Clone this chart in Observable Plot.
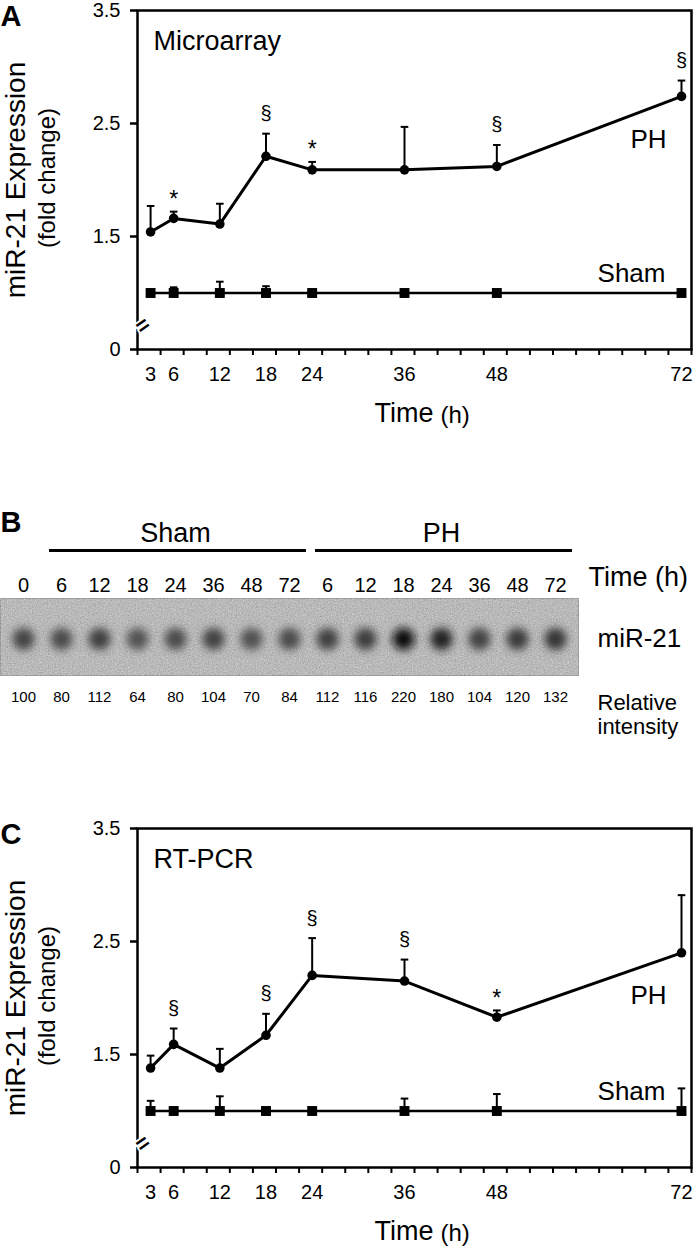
<!DOCTYPE html>
<html>
<head>
<meta charset="utf-8">
<script src="https://cdn.jsdelivr.net/npm/d3@7"></script>
<script src="https://cdn.jsdelivr.net/npm/@observablehq/plot@0.6"></script>
<style>
  body { margin: 0; background: #fff; }
  #fig { position: relative; width: 700px; height: 1257px; overflow: hidden; background: #fff; }
  #fig svg { position: absolute; left: 0; overflow: visible; }
</style>
</head>
<body>
<div id="fig"></div>
<script>
// ---------- data ----------
const times = [3, 6, 12, 18, 24, 36, 48, 72];

// Panel A: Microarray
const phMeanA  = [1.54, 1.66, 1.61, 2.21, 2.09, 2.09, 2.12, 2.74];
const phSeA    = [0.23, 0.06, 0.18, 0.20, 0.07, 0.38, 0.19, 0.14];
const shamMeanA = [1.0, 1.0, 1.0, 1.0, 1.0, 1.0, 1.0, 1.0];
const shamSeA   = [0, 0.05, 0.10, 0.06, 0, 0, 0, 0];
const sigA = ["", "*", "", "§", "*", "", "§", "§"];

// Panel C: RT-PCR
const phMeanC  = [1.38, 1.59, 1.38, 1.67, 2.20, 2.15, 1.83, 2.40];
const phSeC    = [0.11, 0.14, 0.17, 0.19, 0.33, 0.19, 0.06, 0.51];
const shamMeanC = [1.0, 1.0, 1.0, 1.0, 1.0, 1.0, 1.0, 1.0];
const shamSeC   = [0.09, 0, 0.13, 0, 0, 0.11, 0.15, 0.20];
const sigC = ["", "§", "", "§", "§", "§", "*", ""];

// axis (broken y axis: bottom tick stands for 0)
const yTicks = [0.5, 1.5, 2.5, 3.5];
const yTickLabels = ["0", "1.5", "2.5", "3.5"];
const axisBreakAt = 0.68;
const xDomain = [1.3, 73.3];
const yDomain = [0.5, 3.5];
const minorTicks = d3.range(25).map(k => xDomain[0] + 3 * k);

// Panel B: Northern blot
const laneTimes = ["0", "6", "12", "18", "24", "36", "48", "72", "6", "12", "18", "24", "36", "48", "72"];
const laneGroups = ["Control", "Sham", "Sham", "Sham", "Sham", "Sham", "Sham", "Sham", "PH", "PH", "PH", "PH", "PH", "PH", "PH"];
const relIntensity = [100, 80, 112, 64, 80, 104, 70, 84, 112, 116, 220, 180, 104, 120, 132];
const groupNames = ["Sham", "PH"];

// ---------- helpers ----------
const FONT = "'Liberation Sans', Arial, Helvetica, sans-serif";
const yLabelOf = new Map(yTicks.map((v, i) => [v, yTickLabels[i]]));
const capSymbol = { draw(context) { const w = 3.8; context.moveTo(-w, 0); context.lineTo(w, 0); } };

function expressionPanel({letter, title, phMean, phSe, shamMean, shamSe, sig}) {
  const ph = times.map((t, i) => ({t, m: phMean[i], se: phSe[i], sig: sig[i]}));
  const sham = times.map((t, i) => ({t, m: shamMean[i], se: shamSe[i]}));
  const bars = [...ph, ...sham].filter(d => d.se > 0);
  return Plot.plot({
    width: 700, height: 440,
    marginTop: 8, marginRight: 9, marginBottom: 93, marginLeft: 137,
    style: {fontFamily: FONT, fontSize: "20px", background: "transparent", color: "black"},
    x: {domain: xDomain, label: null},
    y: {domain: yDomain, label: null},
    marks: [
      Plot.frame({stroke: "black", strokeWidth: 2.5}),
      Plot.axisY(yTicks, {tickSize: 7, tickPadding: 10, strokeWidth: 2.5, tickFormat: d => yLabelOf.get(d), label: null, fontSize: 20}),
      Plot.axisX(minorTicks, {tickSize: 6, strokeWidth: 2, tickFormat: () => "", label: null}),
      Plot.axisX(times, {tickSize: 0, tickPadding: 17, tickFormat: d => String(d), label: null, fontSize: 20}),
      Plot.ruleX(bars, {x: "t", y1: "m", y2: d => d.m + d.se, strokeWidth: 2, stroke: "black"}),
      Plot.dot(bars, {x: "t", y: d => d.m + d.se, symbol: capSymbol, stroke: "black", strokeWidth: 2, fill: "none"}),
      Plot.line(sham, {x: "t", y: "m", stroke: "black", strokeWidth: 2.5}),
      Plot.line(ph, {x: "t", y: "m", stroke: "black", strokeWidth: 3}),
      Plot.dot(sham, {x: "t", y: "m", symbol: "square", r: 5.6, fill: "black", stroke: "none"}),
      Plot.dot(ph, {x: "t", y: "m", r: 4.8, fill: "black", stroke: "none"}),
      Plot.text(ph.filter(d => d.sig === "§"), {x: "t", y: d => d.m + d.se, text: "sig", dy: -20, fontSize: 20, fill: "black"}),
      Plot.text(ph.filter(d => d.sig === "*"), {x: "t", y: d => d.m + d.se, text: "sig", dy: -12, fontSize: 23, fill: "black"}),
      Plot.text(ph.slice(-1), {x: "t", y: "m", text: () => "PH", dx: -33, dy: 43, fontSize: 26, fill: "black"}),
      Plot.text(sham.slice(-1), {x: "t", y: "m", text: () => "Sham", dx: -50, dy: -19.5, fontSize: 26, fill: "black"}),
      Plot.text([title], {frameAnchor: "top-left", textAnchor: "start", lineAnchor: "middle", dx: 16, dy: 30.4, fontSize: 27, fill: "black"}),
      Plot.text([axisBreakAt], {y: d => d, frameAnchor: "left", text: () => "=", rotate: -35, fontSize: 22, fontWeight: "bold", fill: "black", stroke: "white", strokeWidth: 4}),
      Plot.text(["miR-21 Expression"], {frameAnchor: "left", textAnchor: "middle", lineAnchor: "middle", rotate: -90, dx: -121, fontSize: 28, fill: "black"}),
      Plot.text(["(fold change)"], {frameAnchor: "left", textAnchor: "middle", lineAnchor: "middle", rotate: -90, dx: -90, dy: -2, fontSize: 24, fill: "black"}),
      Plot.text(["Time"], {frameAnchor: "bottom", textAnchor: "end", dx: 19, dy: 81 - 0.32 * 27, fontSize: 27, fill: "black"}),
      Plot.text(["(h)"], {frameAnchor: "bottom", textAnchor: "start", dx: 26, dy: 81 - 0.32 * 24, fontSize: 24, fill: "black"}),
      Plot.text([letter], {frameAnchor: "top-left", textAnchor: "start", lineAnchor: "middle", dx: -137, dy: 6, fontSize: 29, fontWeight: "bold", fill: "black"})
    ]
  });
}

function blotPanel() {
  const lanes = laneTimes.map((time, i) => ({lane: i, time, group: laneGroups[i], value: relIntensity[i]}));
  const groups = groupNames.map(g => {
    const idx = lanes.filter(d => d.group === g).map(d => d.lane);
    const first = d3.min(idx), last = d3.max(idx);
    return {group: g, first, last, mid: (first + last) / 2};
  });
  const svg = Plot.plot({
    width: 700, height: 260,
    marginTop: 98, marginBottom: 85, marginLeft: 21, marginRight: 143,
    style: {fontFamily: FONT, fontSize: "20px", background: "transparent", color: "black"},
    x: {type: "point", domain: lanes.map(d => d.lane), padding: 0, axis: null},
    color: {type: "linear", domain: [60, 220], range: ["#555555", "#101010"]},
    marks: [
      Plot.frame({fill: "#b3b3b3", stroke: "none", insetLeft: -21, insetRight: -21}),
      Plot.dot(lanes, {x: "lane", r: 11, fill: "value", stroke: "none", dy: 2}),
      Plot.text(lanes, {x: "lane", text: "time", frameAnchor: "top", dy: -21, fontSize: 20, fill: "black"}),
      Plot.text(lanes, {x: "lane", text: d => String(d.value), frameAnchor: "bottom", dy: 26, fontSize: 15, fill: "black"}),
      Plot.rect(groups, {x1: "first", x2: "last", insetLeft: -12, insetRight: -17, insetTop: -49, insetBottom: 123, fill: "black"}),
      Plot.text(groups, {x: "mid", text: "group", frameAnchor: "top", dy: -76, fontSize: 27, fill: "black"}),
      Plot.text(["Time (h)"], {frameAnchor: "top-right", textAnchor: "start", lineAnchor: "middle", dx: 31, dy: -21, fontSize: 27, fill: "black"}),
      Plot.text(["miR-21"], {frameAnchor: "right", textAnchor: "start", dx: 40, dy: 2, fontSize: 26, fill: "black"}),
      Plot.text(["Relative\nintensity"], {frameAnchor: "bottom-right", textAnchor: "start", lineAnchor: "top", dx: 40, dy: 17, lineHeight: 1.09, fontSize: 22, fill: "black"}),
      Plot.text(["B"], {frameAnchor: "top-left", textAnchor: "start", lineAnchor: "middle", dx: -21, dy: -76, fontSize: 29, fontWeight: "bold", fill: "black"})
    ]
  });
  const ns = "http://www.w3.org/2000/svg";
  const defs = document.createElementNS(ns, "defs");
  defs.innerHTML =
    '<filter id="grain" x="0" y="0" width="1" height="1" color-interpolation-filters="sRGB">' +
      '<feTurbulence type="fractalNoise" baseFrequency="0.75" numOctaves="3" seed="7" result="t"/>' +
      '<feColorMatrix in="t" type="matrix" values="0.33 0.33 0.33 0 0  0.33 0.33 0.33 0 0  0.33 0.33 0.33 0 0  0 0 0 0 1" result="g"/>' +
      '<feComposite in="SourceGraphic" in2="g" operator="arithmetic" k1="0" k2="1" k3="0.45" k4="-0.2"/>' +
    '</filter>' +
    '<filter id="soft" x="-10%" y="-150%" width="120%" height="400%">' +
      '<feGaussianBlur stdDeviation="4"/>' +
    '</filter>';
  svg.insertBefore(defs, svg.firstChild);
  const frame = svg.querySelector('[aria-label="frame"]');
  if (frame) frame.setAttribute("filter", "url(#grain)");
  const dots = svg.querySelector('g[aria-label="dot"]');
  if (dots) dots.setAttribute("filter", "url(#soft)");
  return svg;
}

// ---------- layout ----------
const fig = document.getElementById("fig");
function place(node, top) { node.style.top = top + "px"; fig.appendChild(node); }
place(expressionPanel({letter: "A", title: "Microarray", phMean: phMeanA, phSe: phSeA, shamMean: shamMeanA, shamSe: shamSeA, sig: sigA}), 2);
place(blotPanel(), 500);
place(expressionPanel({letter: "C", title: "RT-PCR", phMean: phMeanC, phSe: phSeC, shamMean: shamMeanC, shamSe: shamSeC, sig: sigC}), 820);
</script>
</body>
</html>
